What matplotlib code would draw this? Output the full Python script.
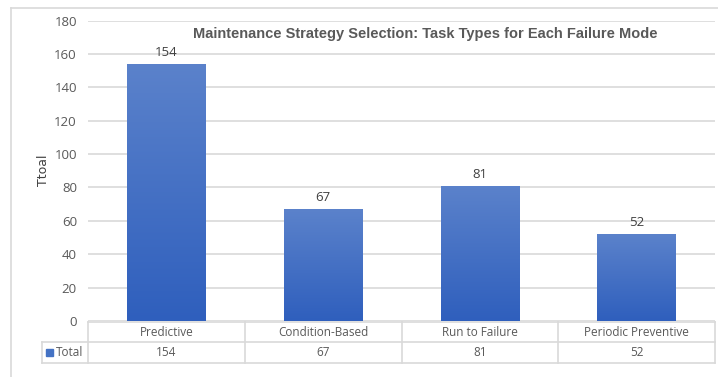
import matplotlib
matplotlib.use("Agg")
import matplotlib.pyplot as plt
import numpy as np
from matplotlib.colors import LinearSegmentedColormap
from matplotlib.lines import Line2D
from matplotlib.patches import Rectangle

categories = ["Predictive", "Condition-Based", "Run to Failure", "Periodic Preventive"]
totals = [154, 67, 81, 52]
series_name = "Total"
yticks = [0, 20, 40, 60, 80, 100, 120, 140, 160, 180]
title = "Maintenance Strategy Selection: Task Types for Each Failure Mode"
ylabel = "Ttoal"

W, H = 718, 377
fig = plt.figure(figsize=(W / 100, H / 100), dpi=100)
fig.patch.set_facecolor("white")

def fx(px):
    return px / W

def fy(py):
    return 1 - py / H

L, R, T, B = 88, 715, 20.5, 321
ax = fig.add_axes([fx(L), fy(B), fx(R) - fx(L), fy(T) - fy(B)])
ax.set_xlim(-0.5, len(categories) - 0.5)
ax.set_ylim(0, 180)
ax.set_yticks(yticks)
ax.set_xticks([])
for s in ax.spines.values():
    s.set_visible(False)
ax.yaxis.grid(True, color="#d9d9d9", linewidth=1.2)
ax.set_axisbelow(True)
ax.tick_params(axis="y", length=0, pad=8, labelsize=9.5, labelcolor="#595959")
for lbl in ax.get_yticklabels():
    lbl.set_fontfamily("Open Sans")

ax.set_ylabel(ylabel, fontsize=9, color="#404040")
ax.yaxis.set_label_coords((50 - L) / (R - L), 0.5)

cmap = LinearSegmentedColormap.from_list("g", ["#2f5fbd", "#5b82cb"])
grad = np.linspace(0, 1, 256).reshape(-1, 1)
bars = ax.bar(range(len(categories)), totals, width=0.5, color="none", zorder=2)
for b, v in zip(bars, totals):
    x0 = b.get_x()
    im = ax.imshow(grad, cmap=cmap, origin="lower", aspect="auto",
                   extent=[x0, x0 + b.get_width(), 0, v], zorder=2)
    im.set_clip_path(b)
    ax.text(b.get_x() + b.get_width() / 2, v + 3, str(v), ha="center", va="bottom",
            fontsize=9.5, color="#404040", family="Open Sans")
ax.set_xlim(-0.5, len(categories) - 0.5)
ax.set_ylim(0, 180)

fig.text(fx(425), fy(34), title, ha="center", va="center", fontsize=10.5,
         fontweight="bold", color="#595959", family="Liberation Sans")

# outer chart border
lc = "#d9d9d9"
fig.add_artist(Line2D([fx(11), fx(718)], [fy(8), fy(8)], color=lc, lw=1.2))
fig.add_artist(Line2D([fx(11), fx(11)], [fy(8), fy(377)], color=lc, lw=1.2))

# data table
r0, r1, r2 = 322, 342, 363
tl = 42
fig.add_artist(Line2D([fx(L), fx(R)], [fy(r0), fy(r0)], color=lc, lw=1.2))
fig.add_artist(Line2D([fx(tl), fx(R)], [fy(r1), fy(r1)], color=lc, lw=1.2))
fig.add_artist(Line2D([fx(tl), fx(R)], [fy(r2), fy(r2)], color=lc, lw=1.2))
fig.add_artist(Line2D([fx(tl), fx(tl)], [fy(r1), fy(r2)], color=lc, lw=1.2))
n = len(categories)
cw = (R - L) / n
for i in range(n + 1):
    xx = L + i * cw
    fig.add_artist(Line2D([fx(xx), fx(xx)], [fy(r0), fy(r2)], color=lc, lw=1.2))
for i, (c, v) in enumerate(zip(categories, totals)):
    cx = L + (i + 0.5) * cw
    fig.text(fx(cx), fy((r0 + r1) / 2), c, ha="center", va="center",
             fontsize=8.5, color="#595959", family="Open Sans")
    fig.text(fx(cx), fy((r1 + r2) / 2), str(v), ha="center", va="center",
             fontsize=8.5, color="#595959", family="Open Sans")
fig.add_artist(Rectangle((fx(46), fy(356)), fx(7), fy(349) - fy(356),
                         color="#4472c4", transform=fig.transFigure))
fig.text(fx(56), fy((r1 + r2) / 2), series_name, ha="left", va="center",
         fontsize=8.5, color="#595959", family="Open Sans")

fig.savefig("out.png", dpi=100)
